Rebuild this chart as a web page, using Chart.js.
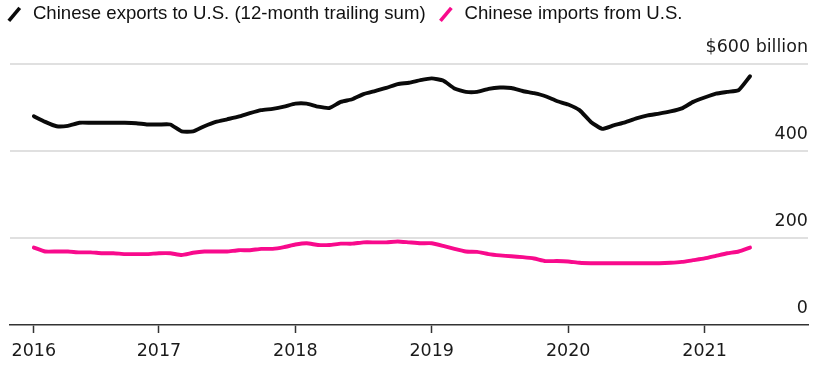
<!DOCTYPE html>
<html>
<head>
<meta charset="utf-8">
<script src="https://cdn.jsdelivr.net/npm/chart.js@4/dist/chart.umd.min.js"></script>
<style>
  html, body { margin: 0; padding: 0; background: #ffffff; }
  #wrap { position: relative; width: 831px; height: 379px; }
</style>
</head>
<body>
<div id="wrap"><canvas id="c"></canvas></div>
<script>
// Monthly categories (12-month trailing sums)
const months = [
  '2016-02','2016-03','2016-04','2016-05','2016-06','2016-07','2016-08','2016-09','2016-10','2016-11','2016-12',
  '2017-01','2017-02','2017-03','2017-04','2017-05','2017-06','2017-07','2017-08','2017-09','2017-10','2017-11','2017-12',
  '2018-01','2018-02','2018-03','2018-04','2018-05','2018-06','2018-07','2018-08','2018-09','2018-10','2018-11','2018-12',
  '2019-01','2019-02','2019-03','2019-04','2019-05','2019-06','2019-07','2019-08','2019-09','2019-10','2019-11','2019-12',
  '2020-01','2020-02','2020-03','2020-04','2020-05','2020-06','2020-07','2020-08','2020-09','2020-10','2020-11','2020-12',
  '2021-01','2021-02','2021-03','2021-04','2021-05'
];

// Chinese exports to U.S., $ billion (12-month trailing sum)
const exportsToUS = [
  480, 467, 457, 458, 465, 465, 465, 465, 465, 464, 461,
  461, 461, 445, 445, 457, 467, 473, 479, 487, 494, 497, 502,
  509, 509, 502, 499, 513, 519, 531, 538, 545, 554, 557, 563,
  567, 562, 544, 536, 536, 543, 546, 545, 538, 533, 526, 515,
  507, 494, 467, 451, 459, 466, 475, 482, 486, 491, 498, 513,
  523, 532, 536, 540, 572
];

// Chinese imports from U.S., $ billion
const importsFromUS = [
  178, 169, 169, 169, 167, 167, 165, 165, 163, 163, 163,
  165, 165, 161, 166, 169, 169, 169, 172, 172, 175, 175, 179,
  185, 188, 184, 184, 187, 187, 190, 190, 190, 192, 190, 188,
  188, 182, 175, 169, 168, 163, 160, 158, 156, 153, 147, 147,
  146, 143, 142, 142, 142, 142, 142, 142, 142, 143, 145, 149,
  153, 159, 165, 169, 178
];

const yearTicks = ['2016', '2017', '2018', '2019', '2020', '2021'];
const yTickValues = [0, 200, 400, 600];
const seriesLabels = ['Chinese exports to U.S. (12-month trailing sum)', 'Chinese imports from U.S.'];

const BLACK = '#0a0a0a';
const PINK = '#f80a8c';

const toPoints = arr => arr.map((v, i) => ({ x: i, y: v }));
const yearTickIndex = yearTicks.map(y => months.findIndex(m => m.startsWith(y)));

const numFont = { family: '"DejaVu Sans", sans-serif', size: 17.5 };

function lineDataset(label, values, color) {
  return {
    label: label,
    data: toPoints(values),
    borderColor: color,
    backgroundColor: color,
    borderWidth: 3.9,
    tension: 0.15,
    borderJoinStyle: 'round',
    borderCapStyle: 'round',
    pointRadius: 0,
    pointHoverRadius: 0,
    pointStyle: 'line',
    pointRotation: -50,
    pointBorderColor: color,
    pointBorderWidth: 3.6,
    fill: false,
    yAxisID: 'y'
  };
}

new Chart(document.getElementById('c'), {
  type: 'line',
  data: {
    datasets: [
      lineDataset(seriesLabels[0], exportsToUS, BLACK),
      lineDataset(seriesLabels[1], importsFromUS, PINK)
    ]
  },
  options: {
    responsive: true,
    maintainAspectRatio: false,
    animation: false,
    events: [],
    layout: { padding: { left: -6, right: 23, top: -6, bottom: 0 } },
    plugins: {
      tooltip: { enabled: false },
      legend: {
        display: true,
        position: 'top',
        align: 'start',
        labels: {
          usePointStyle: true,
          boxWidth: 25,
          boxHeight: 12,
          padding: 11,
          color: '#111111',
          font: { family: '"Liberation Sans", Arial, sans-serif', size: 18.6 }
        }
      }
    },
    scales: {
      x: {
        type: 'linear',
        min: -2.1,
        max: 68.1,
        afterBuildTicks: s => { s.ticks = yearTickIndex.map(v => ({ value: v })); },
        afterFit: s => { s.height = 54; },
        grid: {
          display: true,
          drawOnChartArea: false,
          drawTicks: true,
          tickLength: 8,
          tickColor: '#333333',
          tickWidth: 1.5
        },
        border: { display: true, color: '#333333', width: 1.6 },
        ticks: {
          padding: 8,
          maxRotation: 0,
          autoSkip: false,
          color: '#1a1a1a',
          font: numFont,
          callback: v => {
            const k = yearTickIndex.indexOf(v);
            return k >= 0 ? yearTicks[k] : '';
          }
        }
      },
      y: {
        type: 'linear',
        position: 'right',
        min: 0,
        max: 670,
        afterBuildTicks: s => { s.ticks = yTickValues.map(v => ({ value: v })); },
        afterFit: s => { s.width = 0; },
        grid: {
          display: true,
          drawOnChartArea: true,
          drawTicks: false,
          lineWidth: 2,
          color: c => (c.tick && c.tick.value === 0) ? 'rgba(0,0,0,0)' : '#e0e0e0'
        },
        border: { display: false },
        ticks: {
          mirror: true,
          padding: 0,
          labelOffset: -17,
          color: '#1a1a1a',
          font: numFont,
          callback: v => (v === 600 ? '$600 billion' : String(v))
        }
      },
      yl: {
        type: 'linear',
        position: 'left',
        display: true,
        afterFit: s => { s.width = 16; },
        grid: { display: false },
        border: { display: false },
        ticks: { display: false }
      }
    }
  }
});
</script>
</body>
</html>
